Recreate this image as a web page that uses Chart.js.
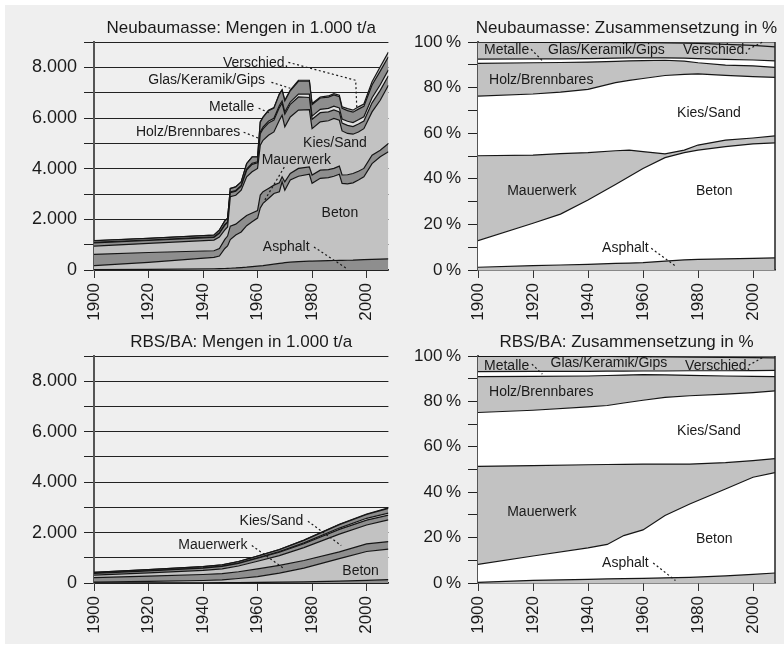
<!DOCTYPE html>
<html>
<head>
<meta charset="utf-8">
<script src="https://cdn.jsdelivr.net/npm/chart.js@4"></script>
<style>
  html, body { margin: 0; padding: 0; background: #fff; }
  #wrap { position: relative; width: 784px; height: 648px; }
  #bg { position: absolute; left: 5px; top: 5px; width: 779px; height: 639px; background: #efefef; }
  canvas { position: absolute; }
</style>
</head>
<body>
<div id="wrap">
  <div id="bg"></div>
  <canvas id="c1" width="392" height="324" style="left:0;top:0"></canvas>
  <canvas id="c2" width="392" height="324" style="left:392px;top:0"></canvas>
  <canvas id="c3" width="392" height="324" style="left:0;top:324px"></canvas>
  <canvas id="c4" width="392" height="324" style="left:392px;top:324px"></canvas>
</div>
<script>
// Schichten von unten nach oben
const layers = ['Asphalt', 'Beton', 'Mauerwerk', 'Kies/Sand', 'Holz/Brennbares', 'Metalle', 'Glas/Keramik/Gips', 'Verschied.'];

const xTickYears = [1900, 1920, 1940, 1960, 1980, 2000];
const absTickValues = [0, 2000, 4000, 6000, 8000];
const absTickLabels = ['0', '2.000', '4.000', '6.000', '8.000'];
const pctTickValues = [0, 20, 40, 60, 80, 100];
const pctTickLabels = ['0\u2009%', '20\u2009%', '40\u2009%', '60\u2009%', '80\u2009%', '100\u2009%'];

// Neubaumasse: Mengen in 1.000 t/a
const tlYears = [1900, 1920, 1944, 1946, 1948, 1949, 1950, 1952, 1954, 1956, 1958, 1960, 1961, 1962, 1964, 1966, 1968, 1969, 1970, 1972, 1975, 1979, 1980, 1983, 1986, 1988, 1990, 1991, 1993, 1995, 1997, 1999, 2002, 2005, 2008];
const tlAsphalt = [15, 25, 50, 55, 60, 65, 70, 80, 95, 110, 130, 150, 160, 170, 200, 230, 260, 275, 290, 310, 330, 350, 350, 360, 370, 375, 380, 380, 385, 390, 400, 410, 420, 430, 440];
const tlBeton = [155, 275, 450, 495, 790, 885, 1130, 1300, 1405, 1640, 1770, 1900, 2290, 2460, 2620, 2790, 2830, 3205, 2860, 3240, 3370, 3430, 3070, 3260, 3280, 3325, 3400, 3040, 3015, 3050, 3150, 3270, 3780, 4040, 4230];
const tlMauerwerk = [450, 390, 260, 300, 360, 390, 530, 430, 480, 400, 350, 300, 510, 460, 400, 330, 350, 200, 330, 260, 310, 290, 330, 320, 310, 310, 320, 330, 360, 370, 350, 330, 330, 260, 320];
const tlKies = [326, 360, 420, 450, 370, 360, 1160, 1140, 1170, 1530, 1630, 1660, 1970, 2030, 2100, 2100, 2470, 2430, 2170, 2230, 2300, 2260, 1830, 1910, 1930, 1970, 1810, 1740, 1630, 1550, 1550, 1570, 1710, 1970, 2300];
const tlHolz = [125, 115, 110, 150, 190, 175, 165, 165, 160, 260, 290, 225, 450, 450, 480, 465, 500, 480, 500, 500, 520, 480, 370, 360, 350, 340, 330, 310, 320, 300, 310, 300, 360, 390, 380];
const tlMetalle = [17, 15, 15, 20, 27, 25, 25, 25, 24, 40, 45, 35, 70, 70, 75, 75, 85, 80, 85, 90, 110, 130, 125, 130, 140, 150, 160, 160, 160, 160, 170, 170, 200, 220, 230];
const tlGlas = [66, 68, 72, 103, 143, 135, 134, 139, 140, 215, 245, 190, 385, 385, 415, 400, 440, 425, 440, 445, 510, 510, 455, 450, 445, 440, 440, 420, 420, 410, 420, 410, 500, 540, 520];
const tlVerschied = [2, 2, 3, 4, 5, 5, 6, 6, 6, 10, 10, 10, 15, 15, 20, 20, 25, 25, 25, 25, 40, 40, 40, 40, 45, 50, 60, 60, 80, 80, 90, 90, 130, 170, 180];

// Neubaumasse: Zusammensetzung in %
const trYears = [1900, 1920, 1930, 1940, 1950, 1955, 1960, 1968, 1975, 1980, 1990, 2000, 2008];
const trAsphalt = [1.2, 1.9, 2.2, 2.5, 2.9, 3.0, 3.2, 3.9, 4.4, 4.7, 4.9, 5.1, 5.3];
const trBeton = [11.7, 18.6, 22.3, 28.2, 34.6, 38.0, 41.3, 45.4, 47.1, 47.9, 49.2, 50.2, 50.5];
const trMauerwerk = [37.2, 29.9, 26.5, 20.8, 14.8, 11.6, 7.4, 1.6, 1.1, 2.2, 2.9, 2.6, 3.0];
const trKies = [26.2, 26.8, 27.0, 27.7, 29.9, 30.6, 32.1, 34.4, 33.2, 31.2, 28.4, 26.9, 25.7];
const trHolz = [14.3, 13.7, 13.0, 12.0, 9.3, 8.5, 7.8, 6.7, 5.8, 4.9, 4.5, 4.7, 4.4];
const trMetalle = [1.9, 1.7, 1.6, 1.5, 1.4, 1.3, 1.2, 1.0, 1.3, 1.8, 2.5, 2.6, 2.8];
const trGlas = [7.4, 7.2, 7.2, 7.1, 6.8, 6.7, 6.7, 6.6, 6.6, 6.7, 6.6, 6.4, 6.2];
const trVerschied = [0.1, 0.2, 0.2, 0.2, 0.3, 0.3, 0.3, 0.4, 0.5, 0.6, 1.0, 1.5, 2.1];

// RBS/BA: Mengen in 1.000 t/a
const blYears = [1900, 1920, 1940, 1947, 1953, 1960, 1968, 1977, 1990, 2000, 2008];
const blAsphalt = [2, 6, 10, 13, 16, 21, 31, 43, 72, 104, 131];
const blBeton = [33, 57, 90, 109, 162, 229, 364, 549, 892, 1146, 1210];
const blMauerwerk = [180, 211, 238, 253, 267, 310, 302, 299, 270, 300, 300];
const blKies = [100, 129, 166, 187, 229, 301, 391, 512, 704, 750, 860];
const blHolz = [66, 79, 88, 95, 105, 121, 132, 153, 186, 194, 190];
const blMetalle = [9, 12, 13, 14, 14, 17, 23, 34, 54, 71, 80];
const blGlas = [28, 35, 43, 47, 54, 67, 82, 102, 138, 149, 185];
const blVerschied = [2, 1, 2, 2, 3, 4, 5, 8, 14, 16, 24];

// RBS/BA: Zusammensetzung in %
const brYears = [1900, 1920, 1940, 1947, 1953, 1960, 1968, 1977, 1990, 2000, 2008];
const brAsphalt = [0.3, 1.2, 1.6, 1.8, 1.9, 2.0, 2.3, 2.5, 3.1, 3.8, 4.4];
const brBeton = [7.9, 10.7, 13.9, 15.2, 19.0, 21.4, 27.4, 32.3, 38.3, 42.8, 44.2];
const brMauerwerk = [43.2, 39.8, 36.6, 35.2, 31.4, 29.0, 22.7, 17.6, 11.6, 7.3, 6.2];
const brKies = [23.7, 24.4, 25.5, 26.0, 27.0, 28.1, 29.4, 30.1, 30.2, 30.0, 29.8];
const brHolz = [15.8, 14.9, 13.6, 13.2, 12.3, 11.3, 9.9, 9.0, 8.0, 7.1, 6.3];
const brMetalle = [2.2, 2.2, 2.0, 1.9, 1.7, 1.6, 1.7, 2.0, 2.3, 2.6, 2.8];
const brGlas = [6.7, 6.6, 6.6, 6.5, 6.4, 6.3, 6.2, 6.0, 5.9, 5.7, 5.5];
const brVerschied = [0.2, 0.2, 0.2, 0.2, 0.3, 0.3, 0.4, 0.5, 0.6, 0.7, 0.8];

// Beschriftungen (Position in Datenkoordinaten, Hinweislinien gepunktet)
const tlNotes = [
    { text: 'Verschied.', at: [1959.3, 8157], leader: [[1971.3, 8196], [1996, 7488], [1996.4, 6384]] },
    { text: 'Glas/Keramik/Gips', at: [1941.3, 7488], leader: [[1965.1, 7409], [1972, 7173]] },
    { text: 'Metalle', at: [1950.5, 6424], leader: [[1960.4, 6384], [1964.7, 6187]] },
    { text: 'Holz/Brennbares', at: [1934.5, 5439], leader: [[1954.9, 5439], [1960.4, 5202]] },
    { text: 'Kies/Sand', at: [1988.4, 5005] },
    { text: 'Mauerwerk', at: [1974.2, 4335], leader: [[1969.8, 4059], [1962.2, 2680]] },
    { text: 'Beton', at: [1990.2, 2246] },
    { text: 'Asphalt', at: [1970.5, 906], leader: [[1980.7, 906], [1992.4, 79]] }
];
const trNotes = [
    { text: 'Metalle', at: [1910.4, 96.5], leader: [[1919.3, 96.8], [1923.4, 91.8]] },
    { text: 'Glas/Keramik/Gips', at: [1946.7, 96.5] },
    { text: 'Verschied.', at: [1986.4, 96.5], leader: [[1998.3, 96.8], [2003.5, 100]] },
    { text: 'Holz/Brennbares', at: [1923, 83.3] },
    { text: 'Kies/Sand', at: [1984, 69] },
    { text: 'Mauerwerk', at: [1923.2, 34.8] },
    { text: 'Beton', at: [1985.9, 34.8] },
    { text: 'Asphalt', at: [1953.6, 9.5], leader: [[1963, 9.5], [1972.1, 1.5]] }
];
const blNotes = [
    { text: 'Kies/Sand', at: [1965.1, 2448], leader: [[1978.5, 2448], [1990.7, 1484]] },
    { text: 'Mauerwerk', at: [1943.6, 1484], leader: [[1957.9, 1484], [1969.8, 565]] },
    { text: 'Beton', at: [1997.8, 474] }
];
const brNotes = [
    { text: 'Metalle', at: [1910.4, 95.6], leader: [[1919.6, 96.4], [1923.4, 92]] },
    { text: 'Glas/Keramik/Gips', at: [1947.6, 96.7] },
    { text: 'Verschied.', at: [1987.2, 95.6], leader: [[1998.4, 95.9], [2003.5, 99.3]] },
    { text: 'Holz/Brennbares', at: [1923, 83.9] },
    { text: 'Kies/Sand', at: [1984, 66.8] },
    { text: 'Mauerwerk', at: [1923.2, 31.2] },
    { text: 'Beton', at: [1985.9, 19.5] },
    { text: 'Asphalt', at: [1953.6, 8.8], leader: [[1963.7, 8.8], [1971.8, 1.1]] }
];

const FONT = '"Liberation Sans", Arial, sans-serif';
Chart.defaults.font.family = FONT;
Chart.defaults.color = '#1a1a1a';

const darkGrey = '#8e8e8e';
const lightGrey = '#c2c2c2';
const colorsAbs = [darkGrey, lightGrey, darkGrey, lightGrey, darkGrey, '#e0e0e0', darkGrey, lightGrey];
const colorsPct = [lightGrey, '#ffffff', lightGrey, '#ffffff', lightGrey, '#ffffff', lightGrey, lightGrey];

// Titel, Beschriftungen, rechter Rahmen
function overlay(cfg) {
    return {
        id: 'overlay',
        afterDatasetsDraw(chart) {
            const { ctx, chartArea: a, scales: { x, y } } = chart;
            ctx.save();
            if (cfg.frame) {
                ctx.strokeStyle = '#222';
                ctx.lineWidth = 1.5;
                ctx.beginPath();
                ctx.moveTo(a.right, a.top);
                ctx.lineTo(a.right, a.bottom);
                ctx.stroke();
            }
            ctx.fillStyle = '#1a1a1a';
            ctx.strokeStyle = '#1a1a1a';
            ctx.textAlign = 'center';
            ctx.textBaseline = 'alphabetic';
            ctx.font = '17px ' + FONT;
            ctx.fillText(cfg.title, (a.left + a.right) / 2, cfg.titleY);

            ctx.font = '14px ' + FONT;
            ctx.textBaseline = 'middle';
            cfg.notes.forEach(n => {
                ctx.fillText(n.text, x.getPixelForValue(n.at[0]), y.getPixelForValue(n.at[1]));
                if (n.leader) {
                    ctx.setLineDash([2, 2.5]);
                    ctx.lineWidth = 1.2;
                    ctx.beginPath();
                    n.leader.forEach((p, k) => {
                        const px = x.getPixelForValue(p[0]), py = y.getPixelForValue(p[1]);
                        if (k) ctx.lineTo(px, py); else ctx.moveTo(px, py);
                    });
                    ctx.stroke();
                    ctx.setLineDash([]);
                }
            });
            ctx.restore();
        }
    };
}

function panel(id, cfg) {
    const datasets = cfg.series.map((vals, i) => ({
        label: layers[i],
        data: vals.map((v, j) => ({ x: cfg.years[j], y: v })),
        fill: i === 0 ? 'origin' : '-1',
        backgroundColor: cfg.colors[i],
        borderColor: '#151515',
        borderWidth: 1.2,
        pointRadius: 0,
        tension: 0
    }));

    new Chart(document.getElementById(id), {
        type: 'line',
        data: { datasets },
        options: {
            responsive: false,
            animation: false,
            layout: { padding: { top: cfg.top, right: cfg.right, left: 0, bottom: 0 } },
            plugins: { legend: { display: false }, tooltip: { enabled: false } },
            scales: {
                x: {
                    type: 'linear', min: 1900, max: 2008,
                    afterBuildTicks: s => { s.ticks = xTickYears.map(v => ({ value: v })); },
                    afterFit: s => { s.height = cfg.xh; },
                    ticks: { minRotation: 90, maxRotation: 90, autoSkip: false, padding: 5, font: { size: 17 }, callback: v => String(v) },
                    grid: { drawOnChartArea: false, tickLength: 8, color: '#333', lineWidth: 1 },
                    border: { display: true, color: '#222', width: 1.5 }
                },
                y: {
                    stacked: true, min: 0, max: cfg.max,
                    afterFit: s => { s.width = cfg.yw; },
                    ticks: {
                        stepSize: cfg.step, autoSkip: false, padding: 7, font: { size: cfg.tickSize },
                        callback: v => { const k = cfg.tickValues.indexOf(v); return k < 0 ? '' : cfg.tickLabels[k]; }
                    },
                    grid: { drawOnChartArea: cfg.grid, tickLength: 10, color: '#222', lineWidth: 1 },
                    border: { display: true, color: '#555', width: 2 }
                }
            }
        },
        plugins: [overlay(cfg)]
    });
}

document.addEventListener('DOMContentLoaded', () => {
    panel('c1', {
        title: 'Neubaumasse: Mengen in 1.000 t/a', titleY: 33, notes: tlNotes,
        years: tlYears, series: [tlAsphalt, tlBeton, tlMauerwerk, tlKies, tlHolz, tlMetalle, tlGlas, tlVerschied],
        colors: colorsAbs, max: 9000, step: 1000, tickValues: absTickValues, tickLabels: absTickLabels, tickSize: 18,
        grid: true, top: 42, right: 0, xh: 54, yw: 94
    });
    panel('c2', {
        title: 'Neubaumasse: Zusammensetzung in %', titleY: 33, notes: trNotes, frame: true,
        years: trYears, series: [trAsphalt, trBeton, trMauerwerk, trKies, trHolz, trMetalle, trGlas, trVerschied],
        colors: colorsPct, max: 100, step: 10, tickValues: pctTickValues, tickLabels: pctTickLabels, tickSize: 17,
        grid: false, top: 42, right: 9, xh: 54, yw: 86
    });
    panel('c3', {
        title: 'RBS/BA: Mengen in 1.000 t/a', titleY: 23, notes: blNotes,
        years: blYears, series: [blAsphalt, blBeton, blMauerwerk, blKies, blHolz, blMetalle, blGlas, blVerschied],
        colors: colorsAbs, max: 9000, step: 1000, tickValues: absTickValues, tickLabels: absTickLabels, tickSize: 18,
        grid: true, top: 32, right: 0, xh: 65, yw: 94
    });
    panel('c4', {
        title: 'RBS/BA: Zusammensetzung in %', titleY: 23, notes: brNotes, frame: true,
        years: brYears, series: [brAsphalt, brBeton, brMauerwerk, brKies, brHolz, brMetalle, brGlas, brVerschied],
        colors: colorsPct, max: 100, step: 10, tickValues: pctTickValues, tickLabels: pctTickLabels, tickSize: 17,
        grid: false, top: 32, right: 9, xh: 65, yw: 86
    });
});
</script>
</body>
</html>
